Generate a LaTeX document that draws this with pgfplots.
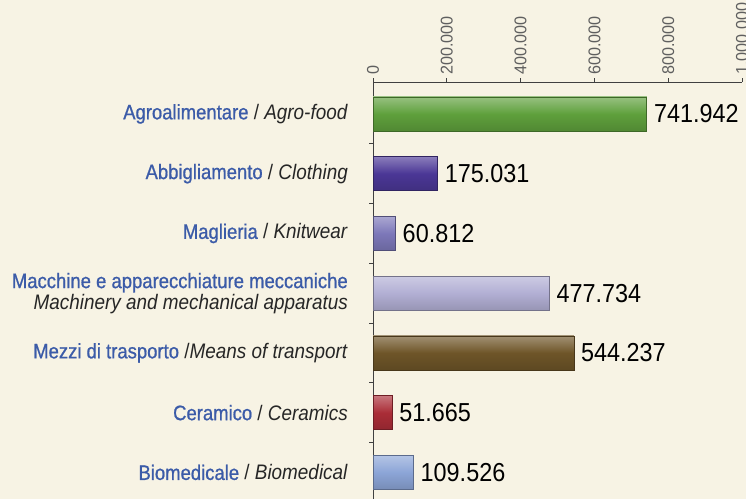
\documentclass[border=0pt]{standalone}
\usepackage{fontspec}
\setmainfont{Liberation Sans}
\newfontfamily\lblfont[FakeStretch=0.9]{Liberation Sans}
\newfontfamily\bluefont[FakeStretch=0.88, FakeBold=0.8]{Liberation Sans}
\newfontfamily\valfont[FakeStretch=0.9]{Liberation Sans}
\newfontfamily\tickfont[FakeStretch=0.95]{Liberation Sans}
\usepackage{pgfplots}
\pgfplotsset{compat=1.18}
\definecolor{bg}{RGB}{247,243,228}
\definecolor{lblblue}{RGB}{59,91,168}
\definecolor{ticktext}{RGB}{95,95,95}
\definecolor{cgreen}{RGB}{95,160,60}
\definecolor{cpurple}{RGB}{75,55,150}
\definecolor{clav}{RGB}{125,120,185}
\definecolor{clightlav}{RGB}{178,175,212}
\definecolor{cbrown}{RGB}{110,85,40}
\definecolor{cred}{RGB}{170,45,55}
\definecolor{clblue}{RGB}{140,165,215}
\newcommand{\bl}[1]{{\bluefont\color{lblblue}#1}}
\pgfplotsset{
  mybar/.style={draw=#1!65!black, line width=0.6pt,
    top color=#1!65!white, bottom color=#1!85!black, middle color=#1}
}
\begin{document}
\begin{tikzpicture}
\path[fill=bg, use as bounding box] (0pt,0pt) rectangle (746pt,-499pt);
\begin{axis}[
  at={(373pt,-82pt)}, anchor=north west,
  scale only axis, width=369pt, height=417pt,
  xmin=0, xmax=1000000, ymin=-0.445, ymax=6.534,
  axis x line*=top, axis y line*=left,
  axis line style={draw=black!75, line width=0.8pt},
  xbar, bar width=34pt, bar shift=0pt,
  xtick={0,200000,400000,600000,800000,1000000},
  xticklabels={0,200.000,400.000,600.000,800.000,1.000.000},
  scaled x ticks=false,
  xticklabel style={rotate=90, anchor=west, text=ticktext,
    font=\tickfont\fontsize{17}{17}\selectfont, inner sep=0pt, xshift=3pt},
  tick align=outside, major tick length=4pt,
  tick style={draw=black!75, line width=0.8pt},
  ytick={0,1,2,3,4,5,6},
  minor ytick={0.5,1.5,2.5,3.5,4.5,5.5},
  major y tick style={draw=none},
  minor tick length=4pt,
  yticklabels={
    {\bl{Biomedicale} / \textit{Biomedical}},
    {\bl{Ceramico} / \textit{Ceramics}},
    {\bl{Mezzi di trasporto} /\textit{Means of transport}},
    {\bl{Macchine e apparecchiature meccaniche}\\\textit{Machinery and mechanical apparatus}},
    {\bl{Maglieria} / \textit{Knitwear}},
    {\bl{Abbigliamento} / \textit{Clothing}},
    {\bl{Agroalimentare} / \textit{Agro-food}}
  },
  yticklabel style={align=right, anchor=east, inner sep=0pt, xshift=-21pt,
    text=black!85, font=\lblfont\fontsize{21}{21}\selectfont},
  point meta=explicit symbolic,
  nodes near coords,
  every node near coord/.append style={anchor=west, inner sep=0pt, xshift=7pt,
    text=black, font=\valfont\fontsize{26}{26}\selectfont},
  clip=false,
]
\addplot[mybar=cgreen] coordinates {(741942,6) [741.942]};
\addplot[mybar=cpurple] coordinates {(175031,5) [175.031]};
\addplot[mybar=clav] coordinates {(60812,4) [60.812]};
\addplot[mybar=clightlav] coordinates {(477734,3) [477.734]};
\addplot[mybar=cbrown] coordinates {(544237,2) [544.237]};
\addplot[mybar=cred] coordinates {(51665,1) [51.665]};
\addplot[mybar=clblue] coordinates {(109526,0) [109.526]};
\end{axis}
\end{tikzpicture}
\end{document}
